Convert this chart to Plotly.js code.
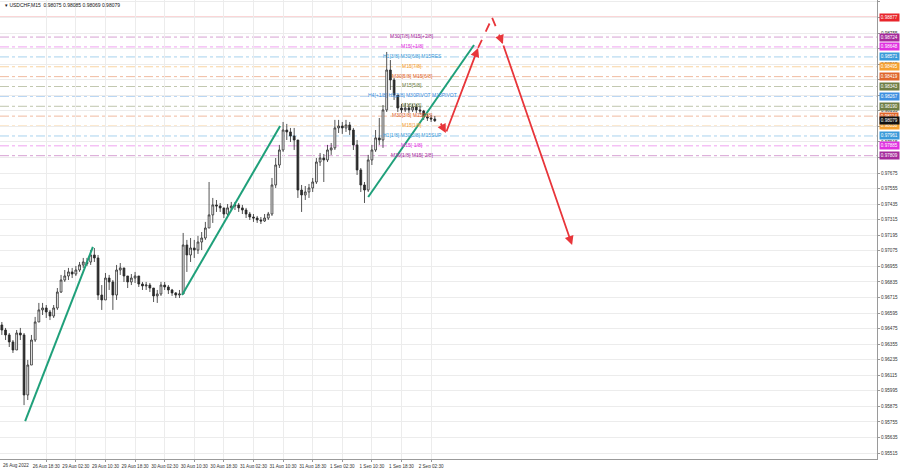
<!DOCTYPE html>
<html>
<head>
<meta charset="utf-8">
<script src="https://cdn.plot.ly/plotly-3.0.1.min.js"></script>
<style>html,body{margin:0;padding:0;background:#fff;}#chart{width:900px;height:468px;}</style>
</head>
<body>
<div id="chart"></div>
<script>
// ---- USDCHF M15 (drawn as hourly bars), bar 0 = 26 Aug 2022 06:30 ----
const openP  = [0.96503,0.96464,0.96426,0.96372,0.96310,0.96441,0.96426,0.95963,0.96194,0.96387,
0.96526,0.96619,0.96634,0.96603,0.96572,0.96634,0.96757,0.96850,0.96881,0.96912,
0.96896,0.96927,0.96966,0.96989,0.96989,0.97043,0.97020,0.96734,0.96696,0.96865,
0.96835,0.96734,0.96927,0.96943,0.96881,0.96835,0.96865,0.96881,0.96819,0.96804,
0.96811,0.96788,0.96727,0.96742,0.96811,0.96796,0.96773,0.96750,0.96734,0.96742,
0.97120,0.97043,0.97097,0.97081,0.97143,0.97174,0.97251,0.97352,0.97429,0.97421,
0.97406,0.97359,0.97406,0.97421,0.97429,0.97406,0.97390,0.97359,0.97336,0.97328,
0.97313,0.97305,0.97328,0.97359,0.97583,0.97737,0.97853,0.98007,0.97992,0.97961,
0.97930,0.97544,0.97506,0.97529,0.97560,0.97606,0.97760,0.97791,0.97776,0.97853,
0.97869,0.98023,0.98038,0.98023,0.98046,0.98007,0.97892,0.97699,0.97583,0.97544,
0.97776,0.97853,0.97946,0.97930,0.98162,0.98470,0.98393,0.98277,0.98177,0.98162,
0.98177,0.98162,0.98185,0.98162,0.98154,0.98108,0.98100,0.98092];
const highP  = [0.96526,0.96480,0.96441,0.96387,0.96464,0.96480,0.96441,0.96233,0.96426,0.96565,
0.96673,0.96673,0.96657,0.96619,0.96657,0.96788,0.96889,0.96927,0.96943,0.96943,
0.96958,0.96989,0.97020,0.97020,0.97081,0.97097,0.97043,0.96811,0.96904,0.96889,
0.96850,0.96966,0.96981,0.96943,0.96881,0.96896,0.96912,0.96881,0.96835,0.96835,
0.96827,0.96788,0.96773,0.96835,0.96835,0.96811,0.96781,0.96757,0.96773,0.97213,
0.97159,0.97174,0.97159,0.97190,0.97220,0.97298,0.97606,0.97483,0.97467,0.97444,
0.97406,0.97436,0.97452,0.97452,0.97444,0.97429,0.97406,0.97375,0.97359,0.97344,
0.97336,0.97359,0.97375,0.97637,0.97791,0.97892,0.98069,0.98054,0.98023,0.98023,
0.97930,0.97583,0.97575,0.97591,0.97637,0.97791,0.97830,0.97822,0.97892,0.97907,
0.98085,0.98085,0.98069,0.98085,0.98069,0.98023,0.97930,0.97714,0.97606,0.97815,
0.97892,0.98007,0.98100,0.98200,0.98609,0.98547,0.98409,0.98277,0.98208,0.98216,
0.98208,0.98208,0.98208,0.98193,0.98162,0.98131,0.98123,0.98115];
const lowP   = [0.96426,0.96387,0.96333,0.96287,0.96310,0.96387,0.95885,0.95924,0.96194,0.96372,
0.96526,0.96580,0.96557,0.96541,0.96557,0.96619,0.96750,0.96835,0.96850,0.96865,
0.96881,0.96912,0.96943,0.96958,0.96966,0.96989,0.96696,0.96619,0.96696,0.96773,
0.96619,0.96696,0.96889,0.96835,0.96788,0.96811,0.96827,0.96796,0.96773,0.96773,
0.96757,0.96680,0.96673,0.96727,0.96773,0.96742,0.96727,0.96711,0.96711,0.96742,
0.96912,0.96989,0.97020,0.97051,0.97081,0.97159,0.97251,0.97290,0.97375,0.97375,
0.97328,0.97344,0.97390,0.97390,0.97375,0.97359,0.97328,0.97313,0.97298,0.97290,
0.97282,0.97298,0.97313,0.97344,0.97560,0.97714,0.97838,0.97930,0.97915,0.97853,
0.97483,0.97375,0.97467,0.97483,0.97529,0.97591,0.97730,0.97606,0.97760,0.97815,
0.97853,0.97984,0.97977,0.97992,0.97969,0.97853,0.97660,0.97529,0.97444,0.97529,
0.97737,0.97838,0.97892,0.97869,0.98146,0.98316,0.98239,0.98146,0.98139,0.98146,
0.98139,0.98146,0.98139,0.98131,0.98085,0.98077,0.98069,0.98069];
const closeP = [0.96464,0.96426,0.96372,0.96310,0.96441,0.96426,0.95963,0.96194,0.96387,0.96526,
0.96619,0.96634,0.96603,0.96572,0.96634,0.96757,0.96850,0.96881,0.96912,0.96896,
0.96927,0.96966,0.96989,0.96975,0.97043,0.97020,0.96734,0.96696,0.96865,0.96835,
0.96734,0.96927,0.96943,0.96881,0.96835,0.96865,0.96881,0.96819,0.96804,0.96811,
0.96788,0.96727,0.96742,0.96811,0.96796,0.96773,0.96750,0.96734,0.96742,0.97120,
0.97043,0.97097,0.97081,0.97143,0.97174,0.97251,0.97352,0.97429,0.97421,0.97406,
0.97359,0.97406,0.97421,0.97429,0.97406,0.97390,0.97359,0.97336,0.97328,0.97313,
0.97305,0.97328,0.97359,0.97583,0.97737,0.97853,0.98007,0.97992,0.97961,0.97930,
0.97544,0.97506,0.97529,0.97560,0.97606,0.97760,0.97791,0.97776,0.97853,0.97869,
0.98023,0.98038,0.98023,0.98046,0.98007,0.97892,0.97699,0.97583,0.97544,0.97776,
0.97853,0.97946,0.97930,0.98162,0.98470,0.98393,0.98277,0.98177,0.98162,0.98177,
0.98162,0.98185,0.98162,0.98154,0.98108,0.98100,0.98092,0.98079];

// time axis labels (bar index of each label)
const tickBars   = [12,20,28,36,44,52,60,68,76,84,92,100,108,116];
const tickLabels = ["26 Aug 18:30","29 Aug 02:30","29 Aug 10:30","29 Aug 18:30","30 Aug 02:30","30 Aug 10:30",
  "30 Aug 18:30","31 Aug 02:30","31 Aug 10:30","31 Aug 18:30","1 Sep 02:30","1 Sep 10:30","1 Sep 18:30","2 Sep 02:30"];
const firstLabel = "26 Aug 2022";

// price axis: grid ticks and the ones whose labels are visible (others sit under level boxes)
const priceTicks = [0.95515,0.95635,0.95755,0.95875,0.95995,0.96115,0.96235,0.96355,0.96475,0.96595,0.96715,0.96835,
  0.96955,0.97075,0.97195,0.97315,0.97435,0.97555,0.97675,0.97795,0.97915,0.98035,0.98155,0.98275,0.98395,0.98515,
  0.98635,0.98755,0.98875,0.98995];
const hiddenPriceTicks = [0.97795,0.98035,0.98275,0.98395,0.98635,0.98875];

// Murrey-math levels
const levelPrices = [0.98877,0.98724,0.98648,0.98571,0.98495,0.98419,0.98343,0.98267,0.98190,0.98114,0.98038,0.97961,0.97885,0.97809];
const levelNames  = ["","M30[7/8] M15[+2/8]","M15[+1/8]","H1[3/8] M30[6/8] M15RES","M15[7/8]","M30[5/8] M15[6/8]","M15[5/8]",
  "H4[+1/8] H1[2/8] M30PIVOT M15PIVOT","M15[3/8]","M30[3/8] M15[2/8]","M15[1/8]","H1[1/8] M30[2/8] M15SUP","M15[-1/8]","M30[1/8] M15[-2/8]"];
const levelColors = ["#e8252b","#a52a9b","#e030e0","#3a9ad9","#f5a030","#e0662a","#6e7d45","#3d8fe0","#6e7d45","#e0662a","#f5a030","#3a9ad9","#e030e0","#a52a9b"];
const lastPrice = 0.98079;

// trend lines (bar index, price)
const trend1X = [6.3, 24.6],  trend1Y = [0.95762, 0.97105];
const trend2X = [48.7, 75.2], trend2Y = [0.96734, 0.98038];
const trend3X = [99.0, 127.6], trend3Y = [0.97490, 0.98663];
// forecast path
const fcX = [118.4, 120.0, 128.7, 132.5, 135.4, 154.1];
const fcY = [0.98069, 0.97984, 0.98640, 0.98872, 0.98671, 0.97120];
const fcDashed = [false, false, true, true, false];

const FONT = "Liberation Sans, Arial, sans-serif";
const barIdx = closeP.map((_, i) => i);

const traces = [{
  type: 'candlestick', x: barIdx, open: openP, high: highP, low: lowP, close: closeP,
  increasing: {line: {color: '#2a2a2a', width: 0.8}, fillcolor: '#ffffff'},
  decreasing: {line: {color: '#2a2a2a', width: 0.8}, fillcolor: '#2a2a2a'},
  whiskerwidth: 0, hoverinfo: 'skip', showlegend: false
}];
[[trend1X,trend1Y],[trend2X,trend2Y],[trend3X,trend3Y]].forEach(([tx,ty]) => {
  traces.push({type:'scatter', mode:'lines', x:tx, y:ty, line:{color:'#1fa07a', width:2}, showlegend:false, hoverinfo:'skip'});
});
for (let i = 0; i < fcDashed.length; i++) {
  if (fcDashed[i]) traces.push({type:'scatter', mode:'lines', x:[fcX[i],fcX[i+1]], y:[fcY[i],fcY[i+1]],
     line:{color:'#e8353a', width:1.8, dash:'dash'}, showlegend:false, hoverinfo:'skip'});
}

const shapes = levelPrices.map((p, i) => ({
  type:'line', xref:'paper', x0:0, x1:1, yref:'y', y0:p, y1:p,
  line:{color:levelColors[i], width: i === 0 ? 1 : 0.8, dash: i === 0 ? 'solid' : 'dashdot'},
  opacity: i === 0 ? 0.7 : 0.55, layer:'below'
}));

const annotations = [];
annotations.push({xref:'paper', yref:'paper', x:0.003, y:0.999, xanchor:'left', yanchor:'top', showarrow:false,
  text:'▾ USDCHF,M15  0.98075 0.98085 0.98069 0.98079', font:{family:FONT, size:5, color:'#111'}});
annotations.push({xref:'paper', yref:'paper', x:0.001, y:0, yshift:-2, xanchor:'left', yanchor:'top', showarrow:false,
  text:firstLabel, font:{family:FONT, size:4.6, color:'#333'}});
levelPrices.forEach((p, i) => {
  if (levelNames[i]) annotations.push({xref:'paper', x:0.47, yref:'y', y:p, yshift:1, xanchor:'center', yanchor:'middle',
    showarrow:false, text:levelNames[i], font:{family:FONT, size:5, color:levelColors[i]}});
  annotations.push({xref:'paper', x:1, xshift:2, yref:'y', y:p, xanchor:'left', yanchor:'middle', showarrow:false,
    text:p.toFixed(5), bgcolor:levelColors[i], borderpad:0.8, font:{family:FONT, size:4.6, color:'#fff'}});
});
annotations.push({xref:'paper', x:1, xshift:2, yref:'y', y:lastPrice, xanchor:'left', yanchor:'middle', showarrow:false,
  text:lastPrice.toFixed(5), bgcolor:'#111', borderpad:0.8, font:{family:FONT, size:4.6, color:'#fff'}});
for (let i = 0; i < fcDashed.length; i++) {
  let tx = fcX[i], ty = fcY[i];
  if (fcDashed[i]) {
    if (i + 1 < fcDashed.length && fcDashed[i + 1]) continue;
    tx = fcX[i] + 0.7 * (fcX[i+1] - fcX[i]); ty = fcY[i] + 0.7 * (fcY[i+1] - fcY[i]);
  }
  annotations.push({x:fcX[i+1], y:fcY[i+1], ax:tx, ay:ty, xref:'x', yref:'y', axref:'x', ayref:'y',
    showarrow:true, arrowhead:2, arrowsize:1, arrowwidth:1.8, arrowcolor:'#e8353a', text:''});
}

const layout = {
  width: 900, height: 468,
  margin: {l:0, r:23, t:0, b:9},
  paper_bgcolor:'#ffffff', plot_bgcolor:'#ffffff',
  showlegend:false,
  xaxis: {range:[-0.5, 236.5], rangeslider:{visible:false}, tickmode:'array', tickvals:tickBars, ticktext:tickLabels,
    tickfont:{family:FONT, size:4.6, color:'#333'}, ticks:'outside', ticklen:2, tickcolor:'#999',
    showgrid:true, gridcolor:'#ececec', gridwidth:1, zeroline:false,
    showline:true, linecolor:'#9a9a9a', linewidth:1, mirror:true, fixedrange:true},
  yaxis: {side:'right', range:[0.95469, 0.99010], tickmode:'array', tickvals:priceTicks,
    ticktext: priceTicks.map(v => hiddenPriceTicks.includes(v) ? '' : v.toFixed(5)),
    tickfont:{family:FONT, size:4.6, color:'#333'}, ticks:'outside', ticklen:2, tickcolor:'#999',
    showgrid:true, gridcolor:'#ececec', gridwidth:1, zeroline:false,
    showline:true, linecolor:'#9a9a9a', linewidth:1, mirror:true, fixedrange:true},
  shapes: shapes,
  annotations: annotations
};

Plotly.newPlot('chart', traces, layout, {displayModeBar:false, staticPlot:true});
</script>
</body>
</html>
